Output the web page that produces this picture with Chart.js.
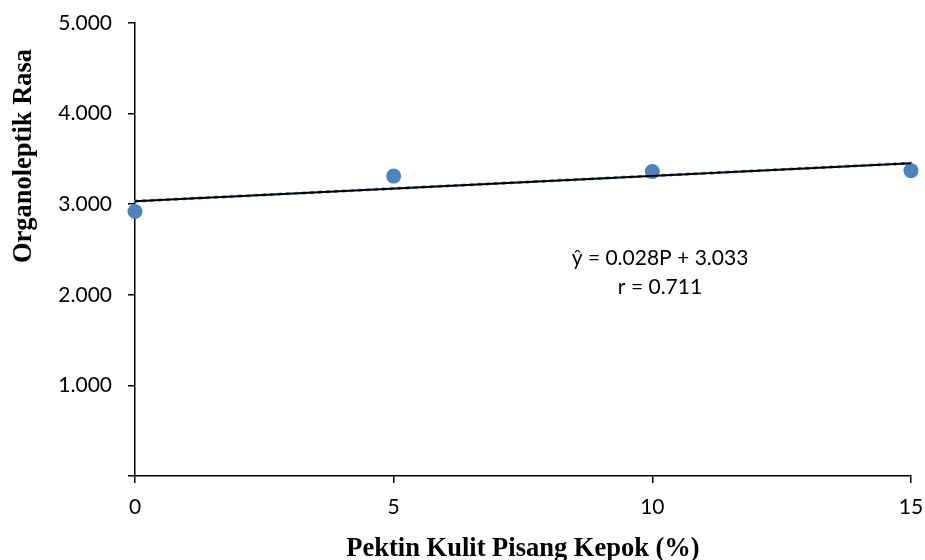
<!DOCTYPE html>
<html>
<head>
<meta charset="utf-8">
<script src="https://cdn.jsdelivr.net/npm/chart.js@4.4.1/dist/chart.umd.min.js"></script>
<style>
  html, body { margin: 0; padding: 0; background: #ffffff; }
  #wrap { width: 925px; height: 560px; position: relative; }
</style>
</head>
<body>
<div id="wrap"><canvas id="c" width="925" height="560"></canvas></div>
<script>
// Pectin level of kepok banana peel (%) and taste score
const pektin = [0, 5, 10, 15];
const rasa = [2.92, 3.31, 3.36, 3.37];

// Linear regression printed on the chart
const slope = 0.028;
const intercept = 3.033;
const rValue = 0.711;
const trendX = [0, 15];

const xTicks = [0, 5, 10, 15];
const yTicks = [0, 1, 2, 3, 4, 5];

const xTitle = 'Pektin Kulit Pisang Kepok (%)';
const yTitle = 'Organoleptik Rasa';
const eqLine1 = 'ŷ = ' + slope.toFixed(3) + 'P + ' + intercept.toFixed(3);
const eqLine2 = 'r = ' + rValue.toFixed(3);

const trendPoints = trendX.map(x => ({ x: x, y: intercept + slope * x }));
const scatterPoints = pektin.map((x, i) => ({ x: x, y: rasa[i] }));

const tickFont = { family: 'Lato', size: 21 };
const titleFont = 'bold 26.5px "Liberation Serif"';

const titlesPlugin = {
  id: 'titles',
  afterDraw(chart) {
    const ctx = chart.ctx;
    const area = chart.chartArea;
    ctx.save();
    ctx.fillStyle = '#000';
    ctx.font = titleFont;
    ctx.textAlign = 'center';
    ctx.textBaseline = 'alphabetic';
    // x-axis title
    ctx.fillText(xTitle, (area.left + area.right) / 2, 556);
    // y-axis title, rotated
    ctx.save();
    ctx.translate(31, 156);
    ctx.rotate(-Math.PI / 2);
    ctx.fillText(yTitle, 0, 0);
    ctx.restore();
    // regression equation
    ctx.font = '21px Lato';
    ctx.fillText(eqLine1, 660, 265);
    ctx.fillText(eqLine2, 660, 294);
    ctx.restore();
  }
};

new Chart(document.getElementById('c'), {
  type: 'scatter',
  data: {
    datasets: [
      {
        label: 'Rasa',
        data: scatterPoints,
        showLine: false,
        pointRadius: 7.5,
        pointHoverRadius: 7.5,
        pointBackgroundColor: '#4F81BD',
        pointBorderColor: '#4F81BD',
        pointBorderWidth: 0,
        clip: false,
        order: 3
      },
      {
        label: 'Trend dots',
        data: trendPoints,
        showLine: true,
        borderColor: '#4F81BD',
        borderWidth: 3,
        borderDash: [2, 6],
        borderCapStyle: 'round',
        pointRadius: 0,
        clip: false,
        order: 2
      },
      {
        label: 'Trend',
        data: trendPoints,
        showLine: true,
        borderColor: '#000000',
        borderWidth: 2,
        pointRadius: 0,
        clip: false,
        order: 1
      }
    ]
  },
  options: {
    responsive: false,
    animation: false,
    events: [],
    layout: { padding: { top: 23, right: 14, left: 0, bottom: 0 } },
    plugins: {
      legend: { display: false },
      tooltip: { enabled: false }
    },
    scales: {
      x: {
        type: 'linear',
        min: 0,
        max: 15,
        afterBuildTicks(scale) { scale.ticks = xTicks.map(v => ({ value: v })); },
        afterFit(scale) {
          scale.height = 84;
          scale.paddingLeft = 0;
          scale.paddingRight = 0;
        },
        ticks: {
          font: tickFont,
          color: '#000',
          padding: 12,
          maxRotation: 0,
          callback: v => String(v)
        },
        grid: {
          drawOnChartArea: false,
          drawTicks: true,
          tickLength: 7,
          color: '#000',
          lineWidth: 1.5
        },
        border: { display: true, color: '#000', width: 1.5 }
      },
      y: {
        type: 'linear',
        min: 0,
        max: 5,
        afterBuildTicks(scale) { scale.ticks = yTicks.map(v => ({ value: v })); },
        afterFit(scale) {
          scale.width = 135;
          scale.paddingTop = 0;
          scale.paddingBottom = 0;
        },
        ticks: {
          font: tickFont,
          color: '#000',
          padding: 16,
          callback: v => (v === 0 ? '' : v.toFixed(3))
        },
        grid: {
          drawOnChartArea: false,
          drawTicks: true,
          tickLength: 7,
          color: '#000',
          lineWidth: 1.5
        },
        border: { display: true, color: '#000', width: 1.5 }
      }
    }
  },
  plugins: [titlesPlugin]
});
</script>
</body>
</html>
